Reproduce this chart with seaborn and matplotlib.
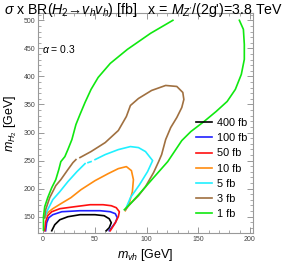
import matplotlib
matplotlib.use("Agg")
import matplotlib.pyplot as plt
import seaborn as sns
import pandas as pd

plt.rcParams["font.family"] = ["Liberation Sans", "DejaVu Sans"]
plt.rcParams["mathtext.fontset"] = "custom"
plt.rcParams["mathtext.rm"] = "Liberation Sans"
plt.rcParams["mathtext.it"] = "Liberation Sans:italic"
plt.rcParams["mathtext.sf"] = "Liberation Sans"

# contour levels (fb) and colours
levels = ["400 fb", "100 fb", "50 fb", "10 fb", "5 fb", "3 fb", "1 fb"]
colors = ["#000000", "#2020ff", "#ff1010", "#ff8c10", "#20f0ff", "#a07040", "#10e810"]

# traced contour lines: (m_vh, m_H2) in GeV, one list per segment
c400 = [[(8.3, 125), (11.2, 135.7), (16.1, 144.6), (23.9, 150), (35.6, 153.6), (50.2, 153.6),
         (59, 151.8), (63.9, 146.4), (65.9, 139.3), (63.9, 130.4), (61, 125)]]
c100 = [[(2.4, 125), (3.4, 139.3), (5.4, 148.2), (9.3, 153.6), (18, 158.9), (35.6, 160.7),
         (55.1, 160.7), (64.9, 158.9), (69.8, 155.4), (71.7, 148.2), (69.8, 139.3),
         (66.8, 132.1), (63.9, 125)]]
c50 = [[(1.5, 125), (2.4, 141.1), (4.4, 151.8), (8.3, 158.9), (16.1, 164.3), (30.7, 167.9),
        (45.4, 171.4), (58, 171.4), (65.9, 169.6), (70.7, 166.1), (73.7, 158.9), (72.7, 150),
        (69.8, 139.3), (66.8, 130.4), (64.9, 125)]]
c10 = [[(1.5, 148.2), (4.4, 157.1), (9.3, 164.3), (17.1, 173.2), (26.8, 183.9), (36.6, 198.2),
        (50.2, 214.3), (62.9, 226.8), (72.7, 235.7), (80.5, 239.3), (85.4, 232.1), (87.3, 216.1),
        (86.3, 194.6), (83.4, 175), (79.5, 160.7)]]
c5 = [[(1.5, 148.2), (4.4, 162.5), (9.3, 180.4), (16.1, 194.6), (23.9, 212.5), (32.7, 230.4),
       (40.5, 244.6)],
      [(43.4, 246.4), (46.3, 248.2)],
      [(50.2, 251.8), (60, 260.7), (72.7, 269.6), (84.4, 275), (92.2, 273.2), (99, 266.1),
       (105.9, 250), (101, 230.4), (93.2, 207.1), (84.4, 183.9), (79.5, 162.5)]]
c3 = [[(1.5, 148.2), (2.4, 162.5), (6.3, 183.9), (12.2, 205.4), (17.1, 216.1), (23.9, 233.9),
       (28.8, 246.4), (31.7, 251.8)],
      [(35.6, 255.4), (46.3, 266.1), (60, 282.1), (72.7, 303.6), (80.5, 328.6), (84.4, 348.2),
       (92.2, 360.7), (104.9, 375), (118.5, 383.9), (129.3, 382.1), (135.1, 371.4),
       (136.1, 358.9), (134.1, 344.6), (129.3, 326.8), (123.4, 308.9), (118.5, 287.5),
       (114.6, 260.7), (111.7, 248.2), (106.8, 228.6), (99, 203.6), (92.2, 187.5),
       (84.4, 173.2), (79.5, 162.5)]]
c1 = [[(0.3, 126), (0.3, 150), (1.5, 167.9), (4.4, 183.9), (8.3, 201.8), (12.2, 216.1),
       (15.1, 233.9), (17.1, 248.2), (21, 257.1), (23.9, 269.6), (27.8, 287.5), (31.7, 314.3),
       (35.6, 332.1), (40.5, 353.6), (46.3, 376.8), (53.2, 398.2), (64.9, 423.2),
       (81.5, 448.2), (103.9, 476.8), (125.5, 500)],
      [(189.8, 500), (193.7, 483.9), (194.6, 457.1), (194.6, 430.4), (191.7, 403.6),
       (185.9, 376.8), (178, 355.4), (167.3, 337.5), (155.6, 319.6), (142.9, 301.8),
       (134.1, 285.7), (120.5, 248.2), (106.8, 219.6), (94.1, 192.9), (84.4, 173.2),
       (78.5, 162.5)]]
curves = [c400, c100, c50, c10, c5, c3, c1]

fig = plt.figure(figsize=(2.89, 2.66), dpi=100)
ax = fig.add_axes([38 / 289, 1 - 233 / 266, 215 / 289, 220 / 266])

for lab, col, segs in zip(levels, colors, curves):
    for i, seg in enumerate(segs):
        df = pd.DataFrame(seg, columns=["mvh", "mH2"])
        sns.lineplot(data=df, x="mvh", y="mH2", ax=ax, sort=False, estimator=None,
                     color=col, lw=1.2, label=lab if i == 0 else None, legend=False)

ax.set_xlim(-5, 203)
ax.set_ylim(121, 513)
ax.set_xticks([0, 50, 100, 150, 200])
ax.set_yticks([150, 200, 250, 300, 350, 400, 450, 500])
ax.set_xticks(range(0, 201, 10), minor=True)
ax.set_yticks(range(130, 511, 10), minor=True)
ax.tick_params(which="both", direction="in", top=True, right=True, colors="#888888",
               labelcolor="#444444", labelsize=5, pad=2)
ax.tick_params(which="major", length=4, width=0.6)
ax.tick_params(which="minor", length=2, width=0.5)
for s in ax.spines.values():
    s.set_color("#999999")
    s.set_linewidth(0.8)

ax.set_xlabel(r"$m_{vh}$ [GeV]", fontsize=9, labelpad=3)
ax.set_ylabel(r"$m_{H_2}$ [GeV]", fontsize=9, labelpad=3)
ax.text(0.02, 0.836, r"$\alpha$ = 0.3", transform=ax.transAxes, fontsize=7.5, va="center")

fig.text(0.015, 0.962,
         "$\\sigma$ x BR($H_2$\u2192$v_h v_h$) [fb]   x = $M_{Z'}$/(2g')=3.8 TeV",
         fontsize=10.2, va="center", ha="left")

ax.legend(loc="upper left", bbox_to_anchor=(196 / 289, 1 - 118 / 266),
          bbox_transform=fig.transFigure, frameon=False, fontsize=7.8,
          handlelength=1.5, handletextpad=0.4, labelspacing=0.48, borderpad=0,
          borderaxespad=0)

fig.savefig("out.png", dpi=100)
